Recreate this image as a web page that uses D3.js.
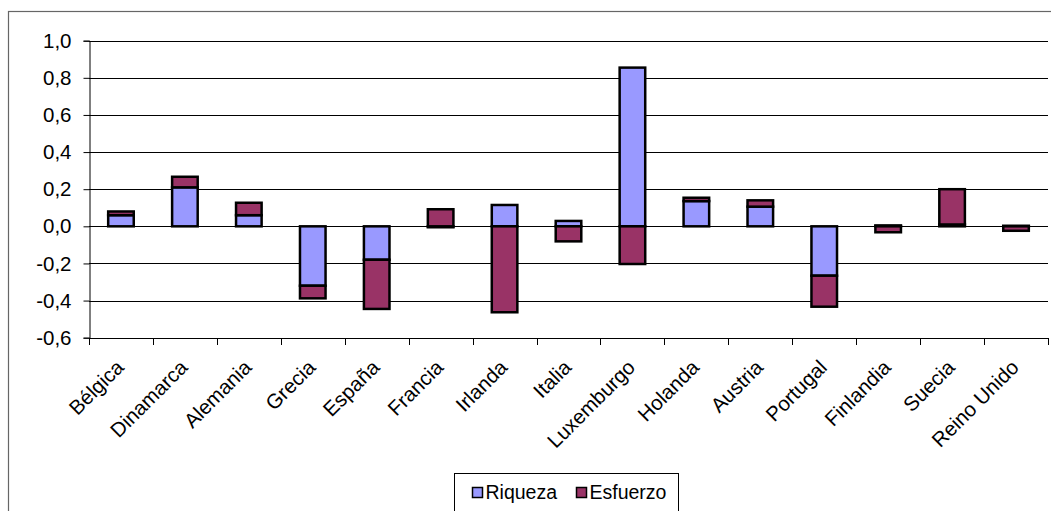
<!DOCTYPE html>
<html>
<head>
<meta charset="utf-8">
<script src="https://cdn.jsdelivr.net/npm/d3@7"></script>
<style>
  html, body { margin: 0; padding: 0; background: #fff; }
  svg { display: block; }
  text { font-family: "Liberation Sans", Arial, sans-serif; fill: #000; }
</style>
</head>
<body>
<svg id="chart" width="1051" height="511"></svg>
<script>
// Países de la UE-15
const paises = ["Bélgica", "Dinamarca", "Alemania", "Grecia", "España", "Francia",
  "Irlanda", "Italia", "Luxemburgo", "Holanda", "Austria", "Portugal",
  "Finlandia", "Suecia", "Reino Unido"];

// Componentes de la desviación respecto a la media
const riqueza  = [0.06, 0.21, 0.06, -0.32, -0.18, -0.005, 0.115, 0.029, 0.855, 0.136, 0.106, -0.266, 0.005, 0.01, 0.003];
const esfuerzo = [0.02, 0.057, 0.067, -0.068, -0.265, 0.092, -0.463, -0.081, -0.203, 0.018, 0.034, -0.167, -0.032, 0.19, -0.024];

const series = ["Riqueza", "Esfuerzo"];
const colores = ["#9999FF", "#993366"];
const yTicks = [-0.6, -0.4, -0.2, 0.0, 0.2, 0.4, 0.6, 0.8, 1.0];

const filas = paises.map((p, i) => ({ pais: p, Riqueza: riqueza[i], Esfuerzo: esfuerzo[i] }));

const svg = d3.select("#chart");
const W = 1051, H = 511;
const plot = { left: 89, right: 1048, top: 40.7, bottom: 337.7 };

svg.append("rect").attr("width", W).attr("height", H).attr("fill", "#fff");

// marco exterior del gráfico
svg.append("rect")
  .attr("x", 8.5).attr("y", 11.5)
  .attr("width", 1100).attr("height", 600)
  .attr("fill", "none").attr("stroke", "#666").attr("stroke-width", 1.2);

const x = d3.scaleBand()
  .domain(paises)
  .range([plot.left, plot.right])
  .paddingInner(0.6)
  .paddingOuter(0.3);

const y = d3.scaleLinear()
  .domain([-0.6, 1.0])
  .range([plot.bottom, plot.top]);

const es = d3.formatLocale({ decimal: ",", thousands: ".", grouping: [3], currency: ["", " €"], minus: "-" });
const fmt = es.format(".1f");

// líneas de división horizontales
svg.append("g")
  .selectAll("line")
  .data(yTicks.filter(t => t > -0.6))
  .join("line")
  .attr("x1", plot.left).attr("x2", plot.right)
  .attr("y1", d => Math.round(y(d)) + 0.5).attr("y2", d => Math.round(y(d)) + 0.5)
  .attr("stroke", "#000").attr("stroke-width", 1);

// barras apiladas (positivos hacia arriba, negativos hacia abajo)
const pila = d3.stack().keys(series).offset(d3.stackOffsetDiverging)(filas);

svg.append("g")
  .selectAll("g")
  .data(pila)
  .join("g")
  .attr("fill", (d, i) => colores[i])
  .selectAll("rect")
  .data(d => d)
  .join("rect")
  .attr("x", d => x(d.data.pais))
  .attr("width", x.bandwidth())
  .attr("y", d => y(Math.max(d[0], d[1])))
  .attr("height", d => Math.abs(y(d[0]) - y(d[1])))
  .attr("stroke", "#000")
  .attr("stroke-width", 2.5);

// eje vertical
const ejeY = svg.append("g")
  .attr("transform", `translate(${plot.left + 0.5},0)`)
  .call(d3.axisLeft(y).tickValues(yTicks).tickFormat(fmt).tickSize(6).tickPadding(12));
ejeY.select(".domain").attr("stroke", "#000");
ejeY.selectAll(".tick line").attr("stroke", "#000");
ejeY.selectAll("text")
  .style("font-family", '"Liberation Sans", Arial, sans-serif')
  .style("font-size", "20.5px")
  .attr("fill", "#000");

// eje de categorías
const bordes = d3.range(paises.length + 1).map(i => plot.left + i * x.step());
const ejeX = svg.append("g");
ejeX.append("line")
  .attr("x1", plot.left).attr("x2", plot.right)
  .attr("y1", Math.round(plot.bottom) + 0.5).attr("y2", Math.round(plot.bottom) + 0.5)
  .attr("stroke", "#000");
ejeX.selectAll("line.marca")
  .data(bordes)
  .join("line")
  .attr("class", "marca")
  .attr("x1", d => Math.round(d) + 0.5).attr("x2", d => Math.round(d) + 0.5)
  .attr("y1", Math.round(plot.bottom)).attr("y2", Math.round(plot.bottom) + 7)
  .attr("stroke", "#000");

ejeX.selectAll("text")
  .data(paises)
  .join("text")
  .attr("transform", d => `translate(${x(d) + x.bandwidth() / 2 + 4},${plot.bottom + 31}) rotate(-45)`)
  .attr("text-anchor", "end")
  .style("font-size", "20.5px")
  .text(d => d);

// leyenda
const ley = svg.append("g");
ley.append("rect")
  .attr("x", 454.5).attr("y", 473.5)
  .attr("width", 224).attr("height", 60)
  .attr("fill", "#fff").attr("stroke", "#000").attr("stroke-width", 1);

const posLey = [472.5, 576.5];
series.forEach((s, i) => {
  ley.append("rect")
    .attr("x", posLey[i]).attr("y", 487.5)
    .attr("width", 10).attr("height", 10)
    .attr("fill", colores[i]).attr("stroke", "#000").attr("stroke-width", 1.5);
  ley.append("text")
    .attr("x", posLey[i] + 13).attr("y", 499)
    .style("font-size", "19.5px")
    .text(s);
});
</script>
</body>
</html>
